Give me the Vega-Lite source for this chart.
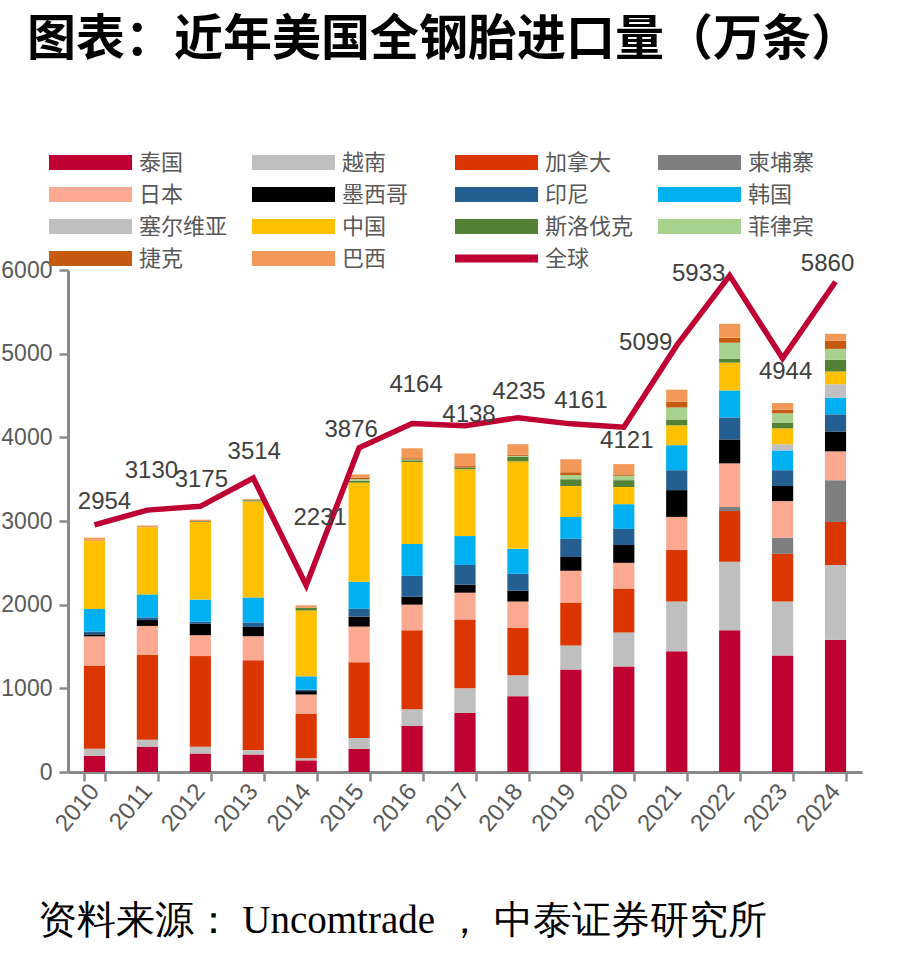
{
  "$schema": "https://vega.github.io/schema/vega-lite/v6.json",
  "autosize": {"type": "none"},
  "width": 794,
  "height": 502,
  "padding": {"left": 68, "top": 270, "right": 48, "bottom": 181},
  "background": "#ffffff",
  "title": {
    "text": "图表：近年美国全钢胎进口量（万条）",
    "anchor": "start",
    "frame": "group",
    "font": "Noto Sans CJK SC",
    "fontSize": 49,
    "fontWeight": "bold",
    "color": "#000000",
    "baseline": "top",
    "dx": -41,
    "offset": 87
  },
  "config": {
    "view": {"stroke": null},
    "font": "Liberation Sans"
  },
  "datasets": {
    "进口": [
      {"年份": "2010", "国家": "泰国", "进口量": 195},
      {"年份": "2010", "国家": "越南", "进口量": 82},
      {"年份": "2010", "国家": "加拿大", "进口量": 996},
      {"年份": "2010", "国家": "日本", "进口量": 348},
      {"年份": "2010", "国家": "墨西哥", "进口量": 25},
      {"年份": "2010", "国家": "印尼", "进口量": 32},
      {"年份": "2010", "国家": "韩国", "进口量": 271},
      {"年份": "2010", "国家": "中国", "进口量": 819},
      {"年份": "2010", "国家": "捷克", "进口量": 8},
      {"年份": "2010", "国家": "巴西", "进口量": 25},
      {"年份": "2011", "国家": "泰国", "进口量": 303},
      {"年份": "2011", "国家": "越南", "进口量": 82},
      {"年份": "2011", "国家": "加拿大", "进口量": 1013},
      {"年份": "2011", "国家": "日本", "进口量": 348},
      {"年份": "2011", "国家": "墨西哥", "进口量": 70},
      {"年份": "2011", "国家": "印尼", "进口量": 32},
      {"年份": "2011", "国家": "韩国", "进口量": 275},
      {"年份": "2011", "国家": "中国", "进口量": 803},
      {"年份": "2011", "国家": "巴西", "进口量": 20},
      {"年份": "2012", "国家": "泰国", "进口量": 221},
      {"年份": "2012", "国家": "越南", "进口量": 82},
      {"年份": "2012", "国家": "加拿大", "进口量": 1082},
      {"年份": "2012", "国家": "日本", "进口量": 250},
      {"年份": "2012", "国家": "墨西哥", "进口量": 140},
      {"年份": "2012", "国家": "印尼", "进口量": 20},
      {"年份": "2012", "国家": "韩国", "进口量": 266},
      {"年份": "2012", "国家": "中国", "进口量": 927},
      {"年份": "2012", "国家": "斯洛伐克", "进口量": 10},
      {"年份": "2012", "国家": "巴西", "进口量": 18},
      {"年份": "2013", "国家": "泰国", "进口量": 209},
      {"年份": "2013", "国家": "越南", "进口量": 53},
      {"年份": "2013", "国家": "加拿大", "进口量": 1074},
      {"年份": "2013", "国家": "日本", "进口量": 287},
      {"年份": "2013", "国家": "墨西哥", "进口量": 111},
      {"年份": "2013", "国家": "印尼", "进口量": 53},
      {"年份": "2013", "国家": "韩国", "进口量": 299},
      {"年份": "2013", "国家": "中国", "进口量": 1148},
      {"年份": "2013", "国家": "斯洛伐克", "进口量": 14},
      {"年份": "2013", "国家": "巴西", "进口量": 14},
      {"年份": "2014", "国家": "泰国", "进口量": 139},
      {"年份": "2014", "国家": "越南", "进口量": 25},
      {"年份": "2014", "国家": "加拿大", "进口量": 529},
      {"年份": "2014", "国家": "日本", "进口量": 233},
      {"年份": "2014", "国家": "墨西哥", "进口量": 41},
      {"年份": "2014", "国家": "印尼", "进口量": 17},
      {"年份": "2014", "国家": "韩国", "进口量": 159},
      {"年份": "2014", "国家": "中国", "进口量": 787},
      {"年份": "2014", "国家": "斯洛伐克", "进口量": 33},
      {"年份": "2014", "国家": "巴西", "进口量": 29},
      {"年份": "2015", "国家": "泰国", "进口量": 275},
      {"年份": "2015", "国家": "越南", "进口量": 131},
      {"年份": "2015", "国家": "加拿大", "进口量": 905},
      {"年份": "2015", "国家": "日本", "进口量": 427},
      {"年份": "2015", "国家": "墨西哥", "进口量": 119},
      {"年份": "2015", "国家": "印尼", "进口量": 94},
      {"年份": "2015", "国家": "韩国", "进口量": 324},
      {"年份": "2015", "国家": "中国", "进口量": 1184},
      {"年份": "2015", "国家": "斯洛伐克", "进口量": 21},
      {"年份": "2015", "国家": "菲律宾", "进口量": 20},
      {"年份": "2015", "国家": "捷克", "进口量": 20},
      {"年份": "2015", "国家": "巴西", "进口量": 37},
      {"年份": "2016", "国家": "泰国", "进口量": 549},
      {"年份": "2016", "国家": "越南", "进口量": 201},
      {"年份": "2016", "国家": "加拿大", "进口量": 943},
      {"年份": "2016", "国家": "日本", "进口量": 307},
      {"年份": "2016", "国家": "墨西哥", "进口量": 94},
      {"年份": "2016", "国家": "印尼", "进口量": 250},
      {"年份": "2016", "国家": "韩国", "进口量": 381},
      {"年份": "2016", "国家": "中国", "进口量": 980},
      {"年份": "2016", "国家": "斯洛伐克", "进口量": 20},
      {"年份": "2016", "国家": "菲律宾", "进口量": 9},
      {"年份": "2016", "国家": "捷克", "进口量": 16},
      {"年份": "2016", "国家": "巴西", "进口量": 119},
      {"年份": "2017", "国家": "泰国", "进口量": 705},
      {"年份": "2017", "国家": "越南", "进口量": 295},
      {"年份": "2017", "国家": "加拿大", "进口量": 824},
      {"年份": "2017", "国家": "日本", "进口量": 319},
      {"年份": "2017", "国家": "墨西哥", "进口量": 95},
      {"年份": "2017", "国家": "印尼", "进口量": 237},
      {"年份": "2017", "国家": "韩国", "进口量": 345},
      {"年份": "2017", "国家": "中国", "进口量": 799},
      {"年份": "2017", "国家": "斯洛伐克", "进口量": 20},
      {"年份": "2017", "国家": "捷克", "进口量": 17},
      {"年份": "2017", "国家": "巴西", "进口量": 151},
      {"年份": "2018", "国家": "泰国", "进口量": 906},
      {"年份": "2018", "国家": "越南", "进口量": 250},
      {"年份": "2018", "国家": "加拿大", "进口量": 569},
      {"年份": "2018", "国家": "日本", "进口量": 312},
      {"年份": "2018", "国家": "墨西哥", "进口量": 131},
      {"年份": "2018", "国家": "印尼", "进口量": 201},
      {"年份": "2018", "国家": "韩国", "进口量": 299},
      {"年份": "2018", "国家": "中国", "进口量": 1045},
      {"年份": "2018", "国家": "斯洛伐克", "进口量": 53},
      {"年份": "2018", "国家": "菲律宾", "进口量": 13},
      {"年份": "2018", "国家": "捷克", "进口量": 16},
      {"年份": "2018", "国家": "巴西", "进口量": 123},
      {"年份": "2019", "国家": "泰国", "进口量": 1225},
      {"年份": "2019", "国家": "越南", "进口量": 287},
      {"年份": "2019", "国家": "加拿大", "进口量": 513},
      {"年份": "2019", "国家": "日本", "进口量": 381},
      {"年份": "2019", "国家": "墨西哥", "进口量": 164},
      {"年份": "2019", "国家": "印尼", "进口量": 217},
      {"年份": "2019", "国家": "韩国", "进口量": 262},
      {"年份": "2019", "国家": "中国", "进口量": 369},
      {"年份": "2019", "国家": "斯洛伐克", "进口量": 82},
      {"年份": "2019", "国家": "菲律宾", "进口量": 49},
      {"年份": "2019", "国家": "捷克", "进口量": 33},
      {"年份": "2019", "国家": "巴西", "进口量": 156},
      {"年份": "2020", "国家": "泰国", "进口量": 1262},
      {"年份": "2020", "国家": "越南", "进口量": 406},
      {"年份": "2020", "国家": "加拿大", "进口量": 525},
      {"年份": "2020", "国家": "日本", "进口量": 307},
      {"年份": "2020", "国家": "墨西哥", "进口量": 213},
      {"年份": "2020", "国家": "印尼", "进口量": 193},
      {"年份": "2020", "国家": "韩国", "进口量": 295},
      {"年份": "2020", "国家": "中国", "进口量": 205},
      {"年份": "2020", "国家": "斯洛伐克", "进口量": 82},
      {"年份": "2020", "国家": "菲律宾", "进口量": 53},
      {"年份": "2020", "国家": "捷克", "进口量": 16},
      {"年份": "2020", "国家": "巴西", "进口量": 123},
      {"年份": "2021", "国家": "泰国", "进口量": 1443},
      {"年份": "2021", "国家": "越南", "进口量": 594},
      {"年份": "2021", "国家": "加拿大", "进口量": 619},
      {"年份": "2021", "国家": "日本", "进口量": 393},
      {"年份": "2021", "国家": "墨西哥", "进口量": 320},
      {"年份": "2021", "国家": "印尼", "进口量": 238},
      {"年份": "2021", "国家": "韩国", "进口量": 299},
      {"年份": "2021", "国家": "中国", "进口量": 237},
      {"年份": "2021", "国家": "斯洛伐克", "进口量": 70},
      {"年份": "2021", "国家": "菲律宾", "进口量": 144},
      {"年份": "2021", "国家": "捷克", "进口量": 69},
      {"年份": "2021", "国家": "巴西", "进口量": 144},
      {"年份": "2022", "国家": "泰国", "进口量": 1693},
      {"年份": "2022", "国家": "越南", "进口量": 819},
      {"年份": "2022", "国家": "加拿大", "进口量": 607},
      {"年份": "2022", "国家": "柬埔寨", "进口量": 49},
      {"年份": "2022", "国家": "日本", "进口量": 521},
      {"年份": "2022", "国家": "墨西哥", "进口量": 286},
      {"年份": "2022", "国家": "印尼", "进口量": 263},
      {"年份": "2022", "国家": "韩国", "进口量": 323},
      {"年份": "2022", "国家": "中国", "进口量": 332},
      {"年份": "2022", "国家": "斯洛伐克", "进口量": 46},
      {"年份": "2022", "国家": "菲律宾", "进口量": 192},
      {"年份": "2022", "国家": "捷克", "进口量": 58},
      {"年份": "2022", "国家": "巴西", "进口量": 168},
      {"年份": "2023", "国家": "泰国", "进口量": 1393},
      {"年份": "2023", "国家": "越南", "进口量": 644},
      {"年份": "2023", "国家": "加拿大", "进口量": 570},
      {"年份": "2023", "国家": "柬埔寨", "进口量": 192},
      {"年份": "2023", "国家": "日本", "进口量": 439},
      {"年份": "2023", "国家": "墨西哥", "进口量": 180},
      {"年份": "2023", "国家": "印尼", "进口量": 189},
      {"年份": "2023", "国家": "韩国", "进口量": 237},
      {"年份": "2023", "国家": "塞尔维亚", "进口量": 74},
      {"年份": "2023", "国家": "中国", "进口量": 189},
      {"年份": "2023", "国家": "斯洛伐克", "进口量": 69},
      {"年份": "2023", "国家": "菲律宾", "进口量": 111},
      {"年份": "2023", "国家": "捷克", "进口量": 45},
      {"年份": "2023", "国家": "巴西", "进口量": 78},
      {"年份": "2024", "国家": "泰国", "进口量": 1582},
      {"年份": "2024", "国家": "越南", "进口量": 893},
      {"年份": "2024", "国家": "加拿大", "进口量": 513},
      {"年份": "2024", "国家": "柬埔寨", "进口量": 500},
      {"年份": "2024", "国家": "日本", "进口量": 344},
      {"年份": "2024", "国家": "墨西哥", "进口量": 238},
      {"年份": "2024", "国家": "印尼", "进口量": 205},
      {"年份": "2024", "国家": "韩国", "进口量": 200},
      {"年份": "2024", "国家": "塞尔维亚", "进口量": 160},
      {"年份": "2024", "国家": "中国", "进口量": 152},
      {"年份": "2024", "国家": "斯洛伐克", "进口量": 139},
      {"年份": "2024", "国家": "菲律宾", "进口量": 131},
      {"年份": "2024", "国家": "捷克", "进口量": 99},
      {"年份": "2024", "国家": "巴西", "进口量": 82}
    ],
    "全球": [
      {"年份": "2010", "全球": 2954},
      {"年份": "2011", "全球": 3130},
      {"年份": "2012", "全球": 3175},
      {"年份": "2013", "全球": 3514},
      {"年份": "2014", "全球": 2231},
      {"年份": "2015", "全球": 3876},
      {"年份": "2016", "全球": 4164},
      {"年份": "2017", "全球": 4138},
      {"年份": "2018", "全球": 4235},
      {"年份": "2019", "全球": 4161},
      {"年份": "2020", "全球": 4121},
      {"年份": "2021", "全球": 5099},
      {"年份": "2022", "全球": 5933},
      {"年份": "2023", "全球": 4944},
      {"年份": "2024", "全球": 5860}
    ]
  },
  "layer": [
    {
      "data": {"name": "进口"},
      "transform": [
        {"calculate": "indexof(['泰国','越南','加拿大','柬埔寨','日本','墨西哥','印尼','韩国','塞尔维亚','中国','斯洛伐克','菲律宾','捷克','巴西'], datum['国家'])", "as": "堆叠序"}
      ],
      "mark": {"type": "bar"},
      "encoding": {
        "x": {
          "field": "年份",
          "type": "nominal",
          "scale": {"paddingInner": 0.6, "paddingOuter": 0.3},
          "axis": {
            "title": "资料来源： Uncomtrade ， 中泰证券研究所",
            "titleFont": "Liberation Serif",
            "titleFontSize": 39,
            "titleFontWeight": "normal",
            "titleColor": "#000000",
            "titleAnchor": "start",
            "titleAlign": "left",
            "titleBaseline": "alphabetic",
            "titleX": -31,
            "titleY": 160,
            "labelAngle": -50,
            "labelFont": "Liberation Sans",
            "labelFontSize": 24,
            "labelColor": "#595959",
            "labelPadding": 6,
            "tickBand": "extent",
            "tickSize": 9,
            "tickWidth": 2.5,
            "tickColor": "#898989",
            "domainColor": "#898989",
            "domainWidth": 3,
            "grid": false
          }
        },
        "y": {
          "field": "进口量",
          "type": "quantitative",
          "stack": "zero",
          "scale": {"domain": [0, 6000], "nice": false},
          "axis": {
            "title": null,
            "values": [0, 1000, 2000, 3000, 4000, 5000, 6000],
            "format": "d",
            "labelFont": "Liberation Sans",
            "labelFontSize": 23,
            "labelColor": "#595959",
            "labelPadding": 7,
            "tickSize": 9,
            "tickWidth": 2.5,
            "tickColor": "#898989",
            "domainColor": "#898989",
            "domainWidth": 3,
            "grid": false
          }
        },
        "color": {
          "field": "国家",
          "type": "nominal",
          "scale": {
            "domain": ["泰国", "越南", "加拿大", "柬埔寨", "日本", "墨西哥", "印尼", "韩国", "塞尔维亚", "中国", "斯洛伐克", "菲律宾", "捷克", "巴西", "全球"],
            "range": ["#BE0032", "#BFBFBF", "#DC3600", "#7F7F7F", "#FCA992", "#000000", "#255E91", "#00B0F0", "#C0C0C0", "#FFC000", "#538135", "#A9D18E", "#C55A11", "#F2995A", "#BE0032"]
          },
          "legend": {
            "title": null,
            "orient": "none",
            "legendX": 11.5,
            "legendY": -118.5,
            "columns": 4,
            "direction": "horizontal",
            "gridAlign": "all",
            "columnPadding": 24,
            "rowPadding": 10,
            "symbolType": "M-5.19,-0.94H5.19V0.94H-5.19Z",
            "symbolSize": 256,
            "symbolStrokeWidth": 0,
            "symbolOpacity": 1,
            "labelFont": "Noto Sans CJK SC",
            "labelFontSize": 22,
            "labelColor": "#595959",
            "labelOffset": 37.5,
            "encode": {
              "symbols": {
                "update": {
                  "shape": {"signal": "datum.value === '全球' ? 'M-5.19,-0.5H5.19V0.5H-5.19Z' : 'M-5.19,-0.94H5.19V0.94H-5.19Z'"},
                  "fill": {"scale": "color", "field": "value"},
                  "stroke": {"value": "transparent"},
                  "opacity": {"value": 1}
                }
              }
            }
          }
        },
        "order": {"field": "堆叠序", "type": "quantitative", "sort": "ascending"}
      }
    },
    {
      "data": {"name": "全球"},
      "mark": {"type": "line", "strokeWidth": 5.5, "strokeJoin": "miter"},
      "encoding": {
        "x": {"field": "年份", "type": "nominal"},
        "y": {"field": "全球", "type": "quantitative"},
        "color": {"datum": "全球"}
      }
    },
    {
      "data": {"name": "全球"},
      "transform": [{"filter": {"field": "年份", "oneOf": ["2012", "2013", "2018"]}}],
      "mark": {"type": "text", "dx": 1, "dy": -26, "fontSize": 24, "color": "#404040", "font": "Liberation Sans"},
      "encoding": {"x": {"field": "年份", "type": "nominal"}, "y": {"field": "全球", "type": "quantitative"}, "text": {"field": "全球"}}
    },
    {
      "data": {"name": "全球"},
      "transform": [{"filter": {"field": "年份", "oneOf": ["2010", "2019"]}}],
      "mark": {"type": "text", "dx": 10, "dy": -23, "fontSize": 24, "color": "#404040", "font": "Liberation Sans"},
      "encoding": {"x": {"field": "年份", "type": "nominal"}, "y": {"field": "全球", "type": "quantitative"}, "text": {"field": "全球"}}
    },
    {
      "data": {"name": "全球"},
      "transform": [{"filter": {"field": "年份", "oneOf": ["2015", "2024"]}}],
      "mark": {"type": "text", "dx": -8, "dy": -18, "fontSize": 24, "color": "#404040", "font": "Liberation Sans"},
      "encoding": {"x": {"field": "年份", "type": "nominal"}, "y": {"field": "全球", "type": "quantitative"}, "text": {"field": "全球"}}
    },
    {
      "data": {"name": "全球"},
      "transform": [{"filter": {"field": "年份", "oneOf": ["2011", "2016"]}}],
      "mark": {"type": "text", "dx": 4, "dy": -39, "fontSize": 24, "color": "#404040", "font": "Liberation Sans"},
      "encoding": {"x": {"field": "年份", "type": "nominal"}, "y": {"field": "全球", "type": "quantitative"}, "text": {"field": "全球"}}
    },
    {
      "data": {"name": "全球"},
      "transform": [{"filter": {"field": "年份", "oneOf": ["2017"]}}],
      "mark": {"type": "text", "dx": 4, "dy": -11, "fontSize": 24, "color": "#404040", "font": "Liberation Sans"},
      "encoding": {"x": {"field": "年份", "type": "nominal"}, "y": {"field": "全球", "type": "quantitative"}, "text": {"field": "全球"}}
    },
    {
      "data": {"name": "全球"},
      "transform": [{"filter": {"field": "年份", "oneOf": ["2020", "2023"]}}],
      "mark": {"type": "text", "dx": 3, "dy": 14, "fontSize": 24, "color": "#404040", "font": "Liberation Sans"},
      "encoding": {"x": {"field": "年份", "type": "nominal"}, "y": {"field": "全球", "type": "quantitative"}, "text": {"field": "全球"}}
    },
    {
      "data": {"name": "全球"},
      "transform": [{"filter": {"field": "年份", "oneOf": ["2021", "2022"]}}],
      "mark": {"type": "text", "dx": -31, "dy": -2, "fontSize": 24, "color": "#404040", "font": "Liberation Sans"},
      "encoding": {"x": {"field": "年份", "type": "nominal"}, "y": {"field": "全球", "type": "quantitative"}, "text": {"field": "全球"}}
    },
    {
      "data": {"name": "全球"},
      "transform": [{"filter": {"field": "年份", "oneOf": ["2014"]}}],
      "mark": {"type": "text", "dx": 14, "dy": -67, "fontSize": 24, "color": "#404040", "font": "Liberation Sans"},
      "encoding": {"x": {"field": "年份", "type": "nominal"}, "y": {"field": "全球", "type": "quantitative"}, "text": {"field": "全球"}}
    }
  ]
}
